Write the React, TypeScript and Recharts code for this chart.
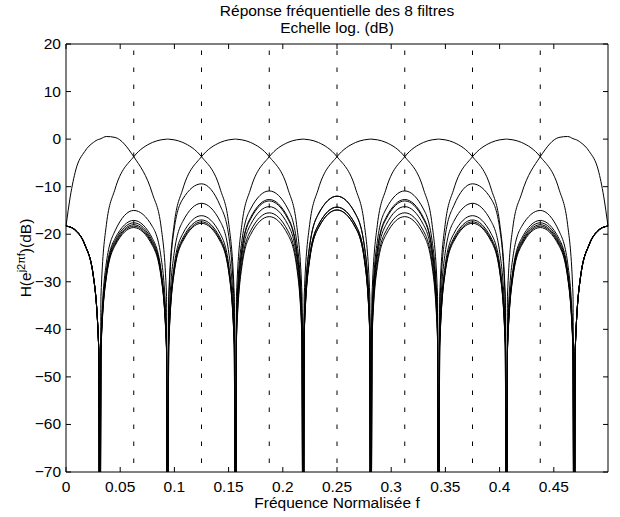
import { LineChart, Line, XAxis, YAxis, ReferenceLine } from 'recharts';

// frequency grid (normalised), denser close to the zeros at odd multiples of 1/32
const freq = [
  0, 0.004, 0.009, 0.01725, 0.02525, 0.03025, 0.03125,
  0.03225, 0.03725, 0.04525, 0.0625, 0.07975, 0.08775, 0.09275, 0.09375,
  0.09475, 0.09975, 0.10775, 0.125, 0.14225, 0.15025, 0.15525, 0.15625,
  0.15725, 0.16225, 0.17025, 0.1875, 0.20475, 0.21275, 0.21775, 0.21875,
  0.21975, 0.22475, 0.23275, 0.25, 0.26725, 0.27525, 0.28025, 0.28125,
  0.28225, 0.28725, 0.29525, 0.3125, 0.32975, 0.33775, 0.34275, 0.34375,
  0.34475, 0.34975, 0.35775, 0.375, 0.39225, 0.40025, 0.40525, 0.40625,
  0.40725, 0.41225, 0.42025, 0.4375, 0.45475, 0.46275, 0.46775, 0.46875,
  0.46975, 0.47475, 0.48275, 0.491, 0.496, 0.5,
];

// |H_k| in dB (-120 = zero of the filter, clipped)
const filt0 = [
  -18.3, -12, -6.5, -2.6, -0.7, -0.05, 0,
  0.1, 0.55, 0.35, -3.7, -11.5, -18.5, -33, -120,
  -34.5, -19, -12.6, -9.4, -14, -20.5, -36, -120,
  -39, -23.5, -16.8, -13, -16.8, -23.5, -39, -120,
  -40.9, -25.4, -18.7, -14.9, -18.7, -25.4, -40.9, -120,
  -42.3, -26.8, -20.1, -16.3, -20.1, -26.8, -42.3, -120,
  -43.7, -28.2, -21.5, -17.7, -21.5, -28.2, -43.7, -120,
  -44.6, -29.1, -22.4, -18.6, -22.4, -29.1, -44.6, -120,
  -44.3, -28.8, -22.1, -19.2, -18.5, -18.3,
];
const filt1 = [
  -18.3, -18.5, -19.2, -22.1, -28.8, -44.3, -120,
  -33, -18, -10.5, -3.7, -0.7, -0.15, -0.01, 0,
  -0.01, -0.15, -0.7, -3.7, -10.5, -18, -33, -120,
  -36.9, -21.4, -14.7, -10.9, -14.7, -21.4, -36.9, -120,
  -40.3, -24.8, -18.1, -14.3, -18.1, -24.8, -40.3, -120,
  -41.5, -26, -19.3, -15.5, -19.3, -26, -41.5, -120,
  -43.4, -27.9, -21.2, -17.4, -21.2, -27.9, -43.4, -120,
  -44.3, -28.8, -22.1, -18.3, -22.1, -28.8, -44.3, -120,
  -44.3, -28.8, -22.1, -19.2, -18.5, -18.3,
];
const filt2 = [
  -18.3, -18.5, -19.3, -22.2, -28.9, -44.4, -120,
  -41.5, -26, -19.3, -15, -18.4, -24.9, -40.5, -120,
  -33, -18, -10.5, -3.7, -0.7, -0.15, -0.01, 0,
  -0.01, -0.15, -0.7, -3.7, -10.5, -18, -33, -120,
  -38, -22.5, -15.8, -12, -15.8, -22.5, -38, -120,
  -40.2, -24.7, -18, -14.2, -18, -24.7, -40.2, -120,
  -43, -27.5, -20.8, -17, -20.8, -27.5, -43, -120,
  -44, -28.5, -21.8, -18, -21.8, -28.5, -44, -120,
  -44.3, -28.8, -22.1, -19.2, -18.5, -18.3,
];
const filt3 = [
  -18.3, -18.5, -19.2, -22.1, -28.8, -44.3, -120,
  -43.1, -27.6, -20.9, -17.1, -20.9, -27.6, -43.1, -120,
  -39.5, -24, -17.3, -13.5, -17.3, -24, -39.5, -120,
  -33, -18, -10.5, -3.7, -0.7, -0.15, -0.01, 0,
  -0.01, -0.15, -0.7, -3.7, -10.5, -18, -33, -120,
  -38.7, -23.2, -16.5, -12.7, -16.5, -23.2, -38.7, -120,
  -42.1, -26.6, -19.9, -16.1, -19.9, -26.6, -42.1, -120,
  -43.6, -28.1, -21.4, -17.6, -21.4, -28.1, -43.6, -120,
  -44.4, -28.9, -22.2, -19.3, -18.5, -18.3,
];
const filt4 = [
  -18.3, -18.5, -19.3, -22.2, -28.9, -44.4, -120,
  -43.6, -28.1, -21.4, -17.6, -21.4, -28.1, -43.6, -120,
  -42.1, -26.6, -19.9, -16.1, -19.9, -26.6, -42.1, -120,
  -38.7, -23.2, -16.5, -12.7, -16.5, -23.2, -38.7, -120,
  -33, -18, -10.5, -3.7, -0.7, -0.15, -0.01, 0,
  -0.01, -0.15, -0.7, -3.7, -10.5, -18, -33, -120,
  -39.5, -24, -17.3, -13.5, -17.3, -24, -39.5, -120,
  -43.1, -27.6, -20.9, -17.1, -20.9, -27.6, -43.1, -120,
  -44.3, -28.8, -22.1, -19.2, -18.5, -18.3,
];
const filt5 = [
  -18.3, -18.5, -19.2, -22.1, -28.8, -44.3, -120,
  -44, -28.5, -21.8, -18, -21.8, -28.5, -44, -120,
  -43, -27.5, -20.8, -17, -20.8, -27.5, -43, -120,
  -40.2, -24.7, -18, -14.2, -18, -24.7, -40.2, -120,
  -38, -22.5, -15.8, -12, -15.8, -22.5, -38, -120,
  -33, -18, -10.5, -3.7, -0.7, -0.15, -0.01, 0,
  -0.01, -0.15, -0.7, -3.7, -10.5, -18, -33, -120,
  -40.5, -24.9, -18.4, -15, -19.3, -26, -41.5, -120,
  -44.4, -28.9, -22.2, -19.3, -18.5, -18.3,
];
const filt6 = [
  -18.3, -18.5, -19.2, -22.1, -28.8, -44.3, -120,
  -44.3, -28.8, -22.1, -18.3, -22.1, -28.8, -44.3, -120,
  -43.4, -27.9, -21.2, -17.4, -21.2, -27.9, -43.4, -120,
  -41.5, -26, -19.3, -15.5, -19.3, -26, -41.5, -120,
  -40.3, -24.8, -18.1, -14.3, -18.1, -24.8, -40.3, -120,
  -36.9, -21.4, -14.7, -10.9, -14.7, -21.4, -36.9, -120,
  -33, -18, -10.5, -3.7, -0.7, -0.15, -0.01, 0,
  -0.01, -0.15, -0.7, -3.7, -10.5, -18, -33, -120,
  -44.3, -28.8, -22.1, -19.2, -18.5, -18.3,
];
const filt7 = [
  -18.3, -18.5, -19.2, -22.1, -28.8, -44.3, -120,
  -44.6, -29.1, -22.4, -18.6, -22.4, -29.1, -44.6, -120,
  -43.7, -28.2, -21.5, -17.7, -21.5, -28.2, -43.7, -120,
  -42.3, -26.8, -20.1, -16.3, -20.1, -26.8, -42.3, -120,
  -40.9, -25.4, -18.7, -14.9, -18.7, -25.4, -40.9, -120,
  -39, -23.5, -16.8, -13, -16.8, -23.5, -39, -120,
  -36, -20.5, -14, -9.4, -12.6, -19, -34.5, -120,
  -33, -18.5, -11.5, -3.7, 0.35, 0.55, 0.1, 0,
  -0.05, -0.7, -2.6, -6.5, -12, -18.3,
];

const filters = [filt0, filt1, filt2, filt3, filt4, filt5, filt6, filt7];
const bandEdges = [0.0625, 0.125, 0.1875, 0.25, 0.3125, 0.375, 0.4375];
const xTicks = [0, 0.05, 0.1, 0.15, 0.2, 0.25, 0.3, 0.35, 0.4, 0.45];
const yTicks = [-70, -60, -50, -40, -30, -20, -10, 0, 10, 20];
const titleLines = ['Réponse fréquentielle des 8 filtres', 'Echelle log. (dB)'];

const rows = freq.map((f, i) => {
  const r: any = { f };
  filters.forEach((s, k) => { r['h' + k] = s[i]; });
  return r;
});

const FONT = '"Liberation Sans", Arial, Helvetica, sans-serif';
const FS = 15.5;
// plot box
const PL = 66, PT = 44, PW = 542, PH = 428;

const fmtY = (v: number) => (v < 0 ? '\u2212' + Math.abs(v) : String(v));

function BottomTick(props: any) {
  const { x, y, payload } = props;
  return (
    <g>
      <line x1={x} y1={y} x2={x} y2={y - 5} stroke="#000" />
      <text x={x} y={y + 20} textAnchor="middle" fontSize={FS} fontFamily={FONT} fill="#000">
        {String(payload.value)}
      </text>
    </g>
  );
}
function TopTick(props: any) {
  const { x, y } = props;
  return <line x1={x} y1={y} x2={x} y2={y + 5} stroke="#000" />;
}
function LeftTick(props: any) {
  const { x, y, payload } = props;
  return (
    <g>
      <line x1={x} y1={y} x2={x + 5} y2={y} stroke="#000" />
      <text x={x - 5} y={y + 5} textAnchor="end" fontSize={FS} fontFamily={FONT} fill="#000">
        {fmtY(payload.value)}
      </text>
    </g>
  );
}
function RightTick(props: any) {
  const { x, y } = props;
  return <line x1={x} y1={y} x2={x - 5} y2={y} stroke="#000" />;
}

const xLabel = () => (
  <text x={PL + PW / 2} y={508} textAnchor="middle" fontFamily={FONT} fontSize={FS} fill="#000">
    Fréquence Normalisée f
  </text>
);
const yLabel = () => (
  <text
    x={31}
    y={PT + PH / 2}
    transform={`rotate(-90, 31, ${PT + PH / 2})`}
    textAnchor="middle"
    fontFamily={FONT}
    fontSize={FS}
    fill="#000"
  >
    H(e<tspan dy={-6} fontSize={11}>j2πf</tspan>
    <tspan dy={6}>)(dB)</tspan>
  </text>
);

export default function App() {
  return (
    <div style={{ position: 'absolute', left: 0, top: 0, width: 620, height: 517, background: '#fff' }}>
      <svg width={620} height={40} style={{ position: 'absolute', left: 0, top: 0 }}>
        {titleLines.map((t, i) => (
          <text key={t} x={PL + PW / 2} y={16 + i * 17} textAnchor="middle" fontFamily={FONT} fontSize={FS} fill="#000">
            {t}
          </text>
        ))}
      </svg>
      <LineChart
        width={620}
        height={517}
        data={rows}
        margin={{ top: PT - 1, right: 620 - PL - PW - 1, bottom: 517 - PT - PH - 30, left: PL - 50 }}
      >
        <XAxis
          dataKey="f"
          type="number"
          domain={[0, 0.5]}
          ticks={xTicks}
          interval={0}
          height={30}
          tickSize={0}
          tickMargin={0}
          tickLine={false}
          stroke="#000"
          tick={<BottomTick />}
          label={xLabel}
        />
        <XAxis
          xAxisId="top"
          orientation="top"
          dataKey="f"
          type="number"
          domain={[0, 0.5]}
          allowDataOverflow
          ticks={xTicks}
          interval={0}
          height={1}
          tickSize={0}
          tickMargin={0}
          tickLine={false}
          stroke="#000"
          tick={<TopTick />}
        />
        <YAxis
          type="number"
          domain={[-70, 20]}
          allowDataOverflow
          ticks={yTicks}
          interval={0}
          width={50}
          tickSize={0}
          tickMargin={0}
          tickLine={false}
          stroke="#000"
          tick={<LeftTick />}
          label={yLabel}
        />
        <YAxis
          yAxisId="right"
          orientation="right"
          type="number"
          domain={[-70, 20]}
          allowDataOverflow
          ticks={yTicks}
          interval={0}
          width={1}
          tickSize={0}
          tickMargin={0}
          tickLine={false}
          stroke="#000"
          tick={<RightTick />}
        />
        {bandEdges.map((e) => (
          <ReferenceLine key={e} x={e} stroke="#000" strokeWidth={1} strokeDasharray="4.5 12.5" strokeDashoffset={-9} />
        ))}
        {filters.map((_, k) => (
          <Line
            key={k}
            dataKey={'h' + k}
            type="monotone"
            stroke="#000"
            strokeWidth={1}
            dot={false}
            activeDot={false}
            isAnimationActive={false}
          />
        ))}
        {/* invisible series so the mirrored top / right axes get drawn */}
        <Line
          xAxisId="top"
          yAxisId="right"
          dataKey="h0"
          stroke="none"
          dot={false}
          activeDot={false}
          legendType="none"
          isAnimationActive={false}
        />
      </LineChart>
    </div>
  );
}
